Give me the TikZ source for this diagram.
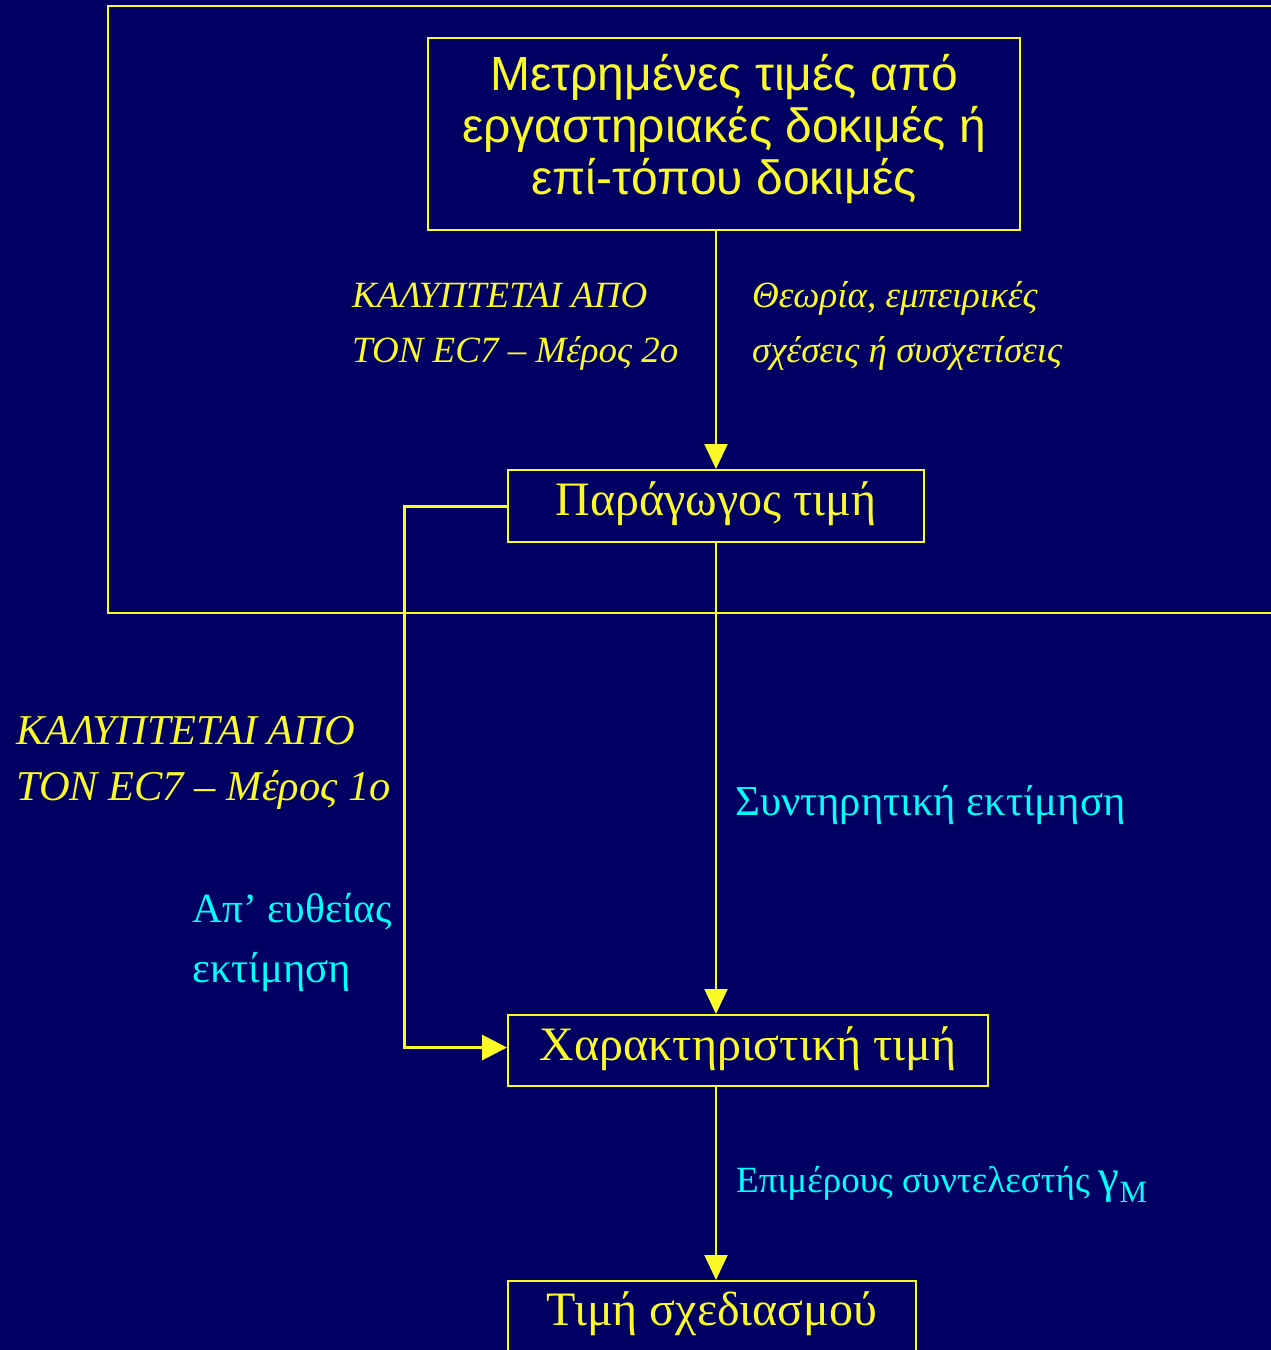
\documentclass[tikz,border=0pt]{standalone}
\usepackage{fontspec}
\setmainfont{Liberation Serif}
\newfontfamily\sansgr{Liberation Sans}
\usetikzlibrary{arrows.meta}
\definecolor{bg}{RGB}{0,0,98}
\definecolor{yel}{RGB}{250,250,40}
\definecolor{cy}{RGB}{0,255,255}
\begin{document}
\begin{tikzpicture}[x=1pt,y=-1pt,
  line/.style={draw=yel, line width=2pt},
  arr/.style={line, -{Triangle[length=25pt,width=23pt]}},
  box/.style={draw=yel, line width=2pt, inner sep=0pt, text=yel, font=\fontsize{48}{52}\selectfont},
  lab/.style={anchor=base west, inner sep=0pt, text=yel, font=\itshape\fontsize{37}{55}\selectfont},
  clab/.style={anchor=base west, inner sep=0pt, text=cy, font=\fontsize{42.7}{60}\selectfont}]
\fill[bg] (0,0) rectangle (1271,1350);
\useasboundingbox (0,0) rectangle (1271,1350);
\draw[line] (108,6) rectangle (1290,613);
\coordinate (axis) at (716,0);
\coordinate (lx) at (404,0);
\node[box, minimum width=592pt, minimum height=192pt, font=\sansgr\fontsize{48}{52}\selectfont] (meas) at (724,134) {\raisebox{0pt}[\height][\dimexpr\depth+10pt\relax]{\parbox{560pt}{\centering Μετρημένες τιμές από\\εργαστηριακές δοκιμές ή\\επί-τόπου δοκιμές}}};
\node[box, anchor=base, minimum width=416pt, text height=45pt, text depth=27pt] (der) at (716,515) {Παράγωγος τιμή};
\node[box, anchor=base, minimum width=480pt, text height=45pt, text depth=26pt] (char) at (748,1060) {Χαρακτηριστική τιμή};
\node[box, anchor=base, minimum width=408pt, text height=44pt, text depth=40pt] (des) at (712,1325) {Τιμή σχεδιασμού};
\coordinate (cin) at ([yshift=3pt]char.west);
\draw[arr] (axis |- meas.south) -- (axis |- der.north);
\draw[arr] (axis |- der.south) -- (axis |- char.north);
\draw[arr] (axis |- char.south) -- (axis |- des.north);
\draw[line, line width=3pt, -{Triangle[length=25pt,width=25pt]}] (der.west) -- (lx |- der.west) -- (lx |- cin) -- (cin);
\node[lab] (c2a) at (352,307) {ΚΑΛΥΠΤΕΤΑΙ ΑΠΟ};
\node[lab] (c2b) at (352,362) {ΤΟΝ EC7 – Μέρος 2ο};
\node[lab] (th1) at (752,307) {Θεωρία, εμπειρικές};
\node[lab] (th2) at (752,362) {σχέσεις ή συσχετίσεις};
\node[lab, font=\itshape\fontsize{42.5}{55}\selectfont] (c1a) at (16,744) {ΚΑΛΥΠΤΕΤΑΙ ΑΠΟ};
\node[lab, font=\itshape\fontsize{42.5}{55}\selectfont] (c1b) at (16,800) {ΤΟΝ EC7 – Μέρος 1ο};
\node[clab] (cons) at (735,815) {Συντηρητική εκτίμηση};
\node[clab, font=\fontsize{41.5}{60}\selectfont] (dir1) at (192,922) {Απ’ ευθείας};
\node[clab] (dir2) at (192,982) {εκτίμηση};
\node[clab, font=\fontsize{37}{50}\selectfont] (gam) at (736,1192) {Επιμέρους συντελεστής {\fontsize{47}{47}\selectfont γ}\raisebox{-10pt}{\fontsize{31}{31}\selectfont M}};
\end{tikzpicture}
\end{document}
